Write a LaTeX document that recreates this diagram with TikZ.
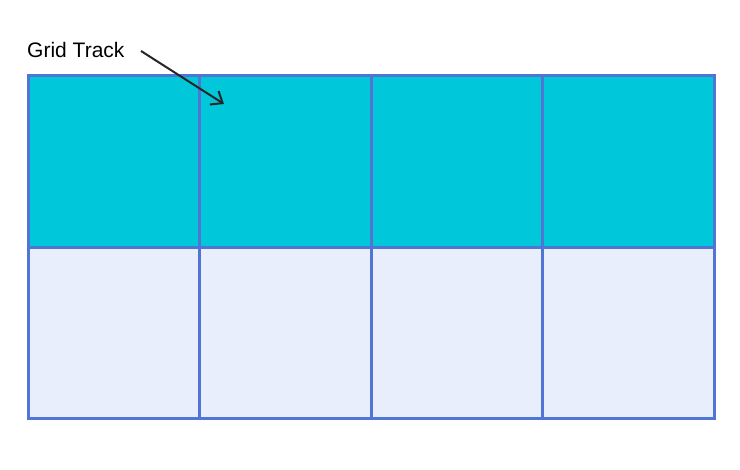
\documentclass[tikz,border=0pt]{standalone}
\usepackage{fontspec}
\setmainfont{Liberation Sans}
\usepackage{xcolor}
\usetikzlibrary{positioning,arrows.meta}
\definecolor{trackcyan}{HTML}{00C8DA}
\definecolor{celllight}{HTML}{E8EEFB}
\definecolor{gridblue}{HTML}{5075D5}
\begin{document}
\begin{tikzpicture}[x=1pt, y=-1pt,
    cell/.style={draw=gridblue, line width=3pt, minimum width=171.5pt, minimum height=171.5pt, inner sep=0pt, outer sep=0pt, anchor=north west}]
      \useasboundingbox (0,0) rectangle (740,470);
      % top track
      \foreach \i in {0,1,2,3}
        \node (top\i) [cell, fill=trackcyan] at (28+171.5*\i, 76) {};
      % bottom track
      \foreach \i in {0,1,2,3}
        \node (bot\i) [cell, fill=celllight] at (28+171.5*\i, 247.5) {};
      \node (track) [anchor=base west, inner sep=0pt, font=\fontsize{21pt}{24pt}\selectfont] at (27,58) {Grid Track};
      \coordinate (tail) at (141,51);
      \coordinate (tip) at (224,104);
      \draw[-{Straight Barb[length=10pt,width=16pt]}, line width=2pt, black!85] (tail) -- (tip);
    \end{tikzpicture}
\end{document}
